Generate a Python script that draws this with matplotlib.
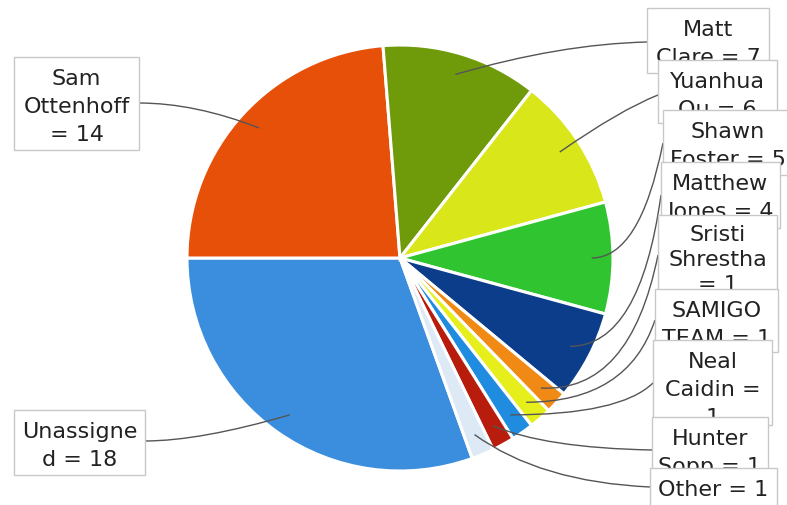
import matplotlib
matplotlib.use("Agg")
import matplotlib.pyplot as plt
from matplotlib.patches import Rectangle, PathPatch
from matplotlib.path import Path
import numpy as np

# ---- data ----
names = ["Unassigned", "Sam Ottenhoff", "Matt Clare", "Yuanhua Ou", "Shawn Foster",
         "Matthew Jones", "Sristi Shrestha", "SAMIGO TEAM", "Neal Caidin",
         "Hunter Sopp", "Other"]
values = [18, 14, 7, 6, 5, 4, 1, 1, 1, 1, 1]
colors = ["#3b8ede", "#e65009", "#6f9b0b", "#d9e61a", "#30c530", "#0b3d8a",
          "#f08a14", "#e6ef1c", "#1f8ce0", "#b81c0c", "#dde9f5"]
# wrapped label lines as shown in the chart
label_lines = [["Unassigne", "d = 18"], ["Sam", "Ottenhoff", "= 14"], ["Matt", "Clare = 7"],
               ["Yuanhua", "Ou = 6"], ["Shawn", "Foster = 5"], ["Matthew", "Jones = 4"],
               ["Sristi", "Shrestha", "= 1"], ["SAMIGO", "TEAM = 1"], ["Neal", "Caidin =", "1"],
               ["Hunter", "Sopp = 1"], ["Other = 1"]]

W, H = 787, 505
fig = plt.figure(figsize=(W / 100, H / 100), dpi=100)
ax = fig.add_axes([0, 0, 1, 1])

def py(y):
    return H - y

cx, cy, R = 400, 258, 213
total = sum(values)
start = 180 + 360 * values[0] / total
wedges, _ = ax.pie(values, colors=colors, startangle=start, counterclock=False,
                   radius=R, center=(cx, py(cy)),
                   wedgeprops=dict(edgecolor="white", linewidth=2.2))
ax.set_xlim(0, W)
ax.set_ylim(0, H)
ax.set_aspect("auto")
ax.axis("off")

# label boxes: (x0, y0_top, x1, y1_bottom) in pixel coordinates
boxes = {
    0: (14, 410, 145, 475),
    1: (14, 57, 139, 150),
    2: (647, 8, 769, 73),
    3: (658, 60, 777, 123),
    4: (663, 110, 792, 175),
    5: (661, 162, 780, 228),
    6: (658, 215, 777, 300),
    7: (655, 289, 778, 352),
    8: (653, 340, 772, 425),
    9: (652, 417, 768, 480),
    10: (650, 468, 777, 520),
}
first_off = {6: 26}
spacing = {6: 25}
# connector attach point on box
attach = {0: (145, 441), 1: (139, 103), 2: (647, 42), 3: (658, 95), 4: (663, 143),
          5: (661, 195), 6: (658, 255), 7: (655, 320), 8: (653, 383), 9: (652, 450),
          10: (650, 487)}
# control points for connector curves
ctrl = {0: (200, 441), 1: (195, 103), 2: (560, 44), 3: (620, 110), 4: (640, 258),
        5: (640, 346), 6: (630, 393), 7: (628, 402), 8: (620, 415), 9: (545, 448),
        10: (540, 482)}

# slice anchor points at 0.9R at mid angles
angles = []
a = start
for v in values:
    span = 360 * v / total
    angles.append(a - span / 2)
    a -= span

for i in range(len(values)):
    th = np.deg2rad(angles[i])
    ex, ey = cx + 0.9 * R * np.cos(th), cy - 0.9 * R * np.sin(th)
    sx, sy = attach[i]
    qx, qy = ctrl[i]
    path = Path([(sx, py(sy)), (qx, py(qy)), (ex, py(ey))],
                [Path.MOVETO, Path.CURVE3, Path.CURVE3])
    ax.add_patch(PathPatch(path, facecolor="none", edgecolor="#555555", lw=1.0, zorder=5))

order = [1, 0, 2, 3, 4, 5, 6, 7, 8, 9, 10]
for k, i in enumerate(order):
    x0, y0, x1, y1 = boxes[i]
    z = 10 + 2 * k
    ax.add_patch(Rectangle((x0, py(y1)), x1 - x0, y1 - y0, facecolor="white",
                           edgecolor="#c8c8c8", lw=1.0, zorder=z))
    xc = (x0 + x1) / 2
    fo = first_off.get(i, 28)
    sp = spacing.get(i, 28)
    for j, line in enumerate(label_lines[i]):
        ax.text(xc, py(y0 + fo + sp * j), line, ha="center", va="baseline",
                fontsize=16, color="#222222", family="DejaVu Sans", zorder=z + 1)

fig.savefig("out.png", dpi=100)
